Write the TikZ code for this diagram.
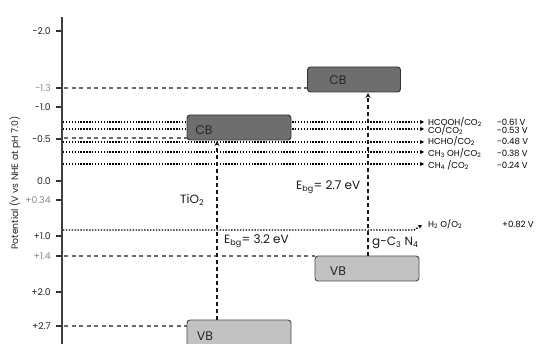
\documentclass[tikz,border=0pt]{standalone}
\usepackage{fontspec}
\setmainfont{Poppins}
\usetikzlibrary{arrows.meta}
\definecolor{cbfill}{HTML}{6E6E6E}
\definecolor{vbfill}{HTML}{C2C2C2}
\definecolor{lvgray}{HTML}{6A6A6A}
\definecolor{lightlab}{HTML}{8A8A8A}
\begin{document}
\begin{tikzpicture}[x=1pt,y=-1pt,
  ticklab/.style={anchor=east,font=\fontsize{9.3}{10}\selectfont,text=black!85,inner sep=0pt},
  ticklabg/.style={ticklab,text=lightlab},
  tickln/.style={line width=1.1pt,black!80},
  levdash/.style={lvgray,line width=1.1pt,dash pattern=on 4pt off 3.5pt},
  redox/.style={black,line width=1.4pt,dash pattern=on 1.4pt off 1.5pt,-{Stealth[length=4pt,width=4pt]}},
  bandgap/.style={black!90,line width=1.7pt,dash pattern=on 3.5pt off 3.5pt,-{Stealth[length=5pt,width=5pt]}},
  cbbox/.style={draw=black!80,fill=cbfill,line width=0.9pt,rounded corners=3pt,inner sep=0pt},
  vbbox/.style={draw=black!70,fill=vbfill,line width=0.9pt,rounded corners=3pt,inner sep=0pt},
  bandlab/.style={font=\fontsize{12.5}{13}\selectfont,text=black!85,inner sep=0pt},
  redlab/.style={anchor=west,font=\fontsize{8.6}{9}\selectfont,inner sep=0pt},
  mainlab/.style={font=\fontsize{12}{13}\selectfont,inner sep=0pt,text=black!90}
]
\useasboundingbox (0,0) rectangle (536,344);

% axis
\coordinate (axT) at (62,17);
\coordinate (axB) at (62,344);

% tick labels
\node[ticklab]  (l1) at (51,31)  {-2.0};
\node[ticklabg] (l2) at (51,88)  {-1.3};
\node[ticklab]  (l3) at (51,107) {-1.0};
\node[ticklab]  (l4) at (51,139) {-0.5};
\node[ticklab]  (l5) at (51,181) {0.0};
\node[ticklabg] (l6) at (51,200) {+0.34};
\node[ticklab]  (l7) at (51,236) {+1.0};
\node[ticklabg] (l8) at (51,256) {+1.4};
\node[ticklab]  (l9) at (51,292) {+2.0};
\node[ticklab]  (l10) at (51,326) {+2.7};
\foreach \y in {31,88,107,139,181,200,236,256,292,326}{
  \draw[tickln] (56,\y) -- (62,\y);
}

\node[rotate=90,font=\fontsize{9.3}{10}\selectfont,text=black!85] (ylab) at (15,183) {Potential (V vs NHE at pH 7.0)};

% level dashed lines
\draw[levdash] (64,88) -- (307,88);
\draw[levdash] (64,138) -- (187,138);
\draw[levdash] (64,256) -- (315,256);
\draw[levdash] (64,326) -- (187,326);

% redox dotted arrows
\coordinate (r1s) at (63,122); \coordinate (r1e) at (424,122);
\coordinate (r2s) at (63,129); \coordinate (r2e) at (424,129);
\coordinate (r3s) at (63,142); \coordinate (r3e) at (424,142);
\coordinate (r4s) at (63,152); \coordinate (r4e) at (424,152);
\coordinate (r5s) at (63,164); \coordinate (r5e) at (424,164);
\coordinate (r6s) at (63,230); \coordinate (r6m) at (414,230); \coordinate (r6e) at (422,225);
\draw[redox] (r1s) -- (r1e);
\draw[redox] (r2s) -- (r2e);
\draw[redox] (r3s) -- (r3e);
\draw[redox] (r4s) -- (r4e);
\draw[redox] (r5s) -- (r5e);
\draw[redox] (r6s) -- (r6m) -- (r6e);

\node[redlab] (n1) at (428,122) {HCOOH/CO\textsubscript{2}};
\node[redlab] (n2) at (428,130) {CO/CO\textsubscript{2}};
\node[redlab] (n3) at (428,141) {HCHO/CO\textsubscript{2}};
\node[redlab] (n4) at (428,153) {CH\textsubscript{3} OH/CO\textsubscript{2}};
\node[redlab] (n5) at (428,165) {CH\textsubscript{4} /CO\textsubscript{2}};
\node[redlab] (n6) at (428,224) {H\textsubscript{2} O/O\textsubscript{2}};
\node[redlab] (v1) at (497,122) {-0.61 V};
\node[redlab] (v2) at (497,130) {-0.53 V};
\node[redlab] (v3) at (497,141) {-0.48 V};
\node[redlab] (v4) at (497,153) {-0.38 V};
\node[redlab] (v5) at (497,165) {-0.24 V};
\node[redlab] (v6) at (502,224) {+0.82 V};

% band boxes
\node[cbbox,minimum width=93pt,minimum height=25pt] (cb2) at (354,79.5) {};
\node[cbbox,minimum width=104pt,minimum height=25pt] (cb1) at (239,127.5) {};
\node[vbbox,minimum width=104pt,minimum height=25pt] (vb2) at (367,268.5) {};
\node[vbbox,minimum width=104pt,minimum height=36pt] (vb1) at (239,338) {};

\node[bandlab] (cb2l) at (338,80) {CB};
\node[bandlab] (cb1l) at (204,130) {CB};
\node[bandlab] (vb2l) at (338,271) {VB};
\node[bandlab] (vb1l) at (205,336) {VB};

% axis line on top
\draw[line width=2pt,black!75] (axT) -- (axB);

% band gap arrows
\draw[bandgap] (217,320) -- (217,141);
\draw[bandgap] (368,256) -- (368,93);

\node[mainlab,anchor=west] (tio) at (180,200) {TiO\textsubscript{2}};
\node[mainlab,anchor=west] (eg1) at (224,241) {E\textsubscript{bg}= 3.2 eV};
\node[mainlab,anchor=west] (eg2) at (296,187) {E\textsubscript{bg}= 2.7 eV};
\node[mainlab,anchor=west] (gcn) at (372,243) {g-C\textsubscript{3} N\textsubscript{4}};
\end{tikzpicture}
\end{document}
